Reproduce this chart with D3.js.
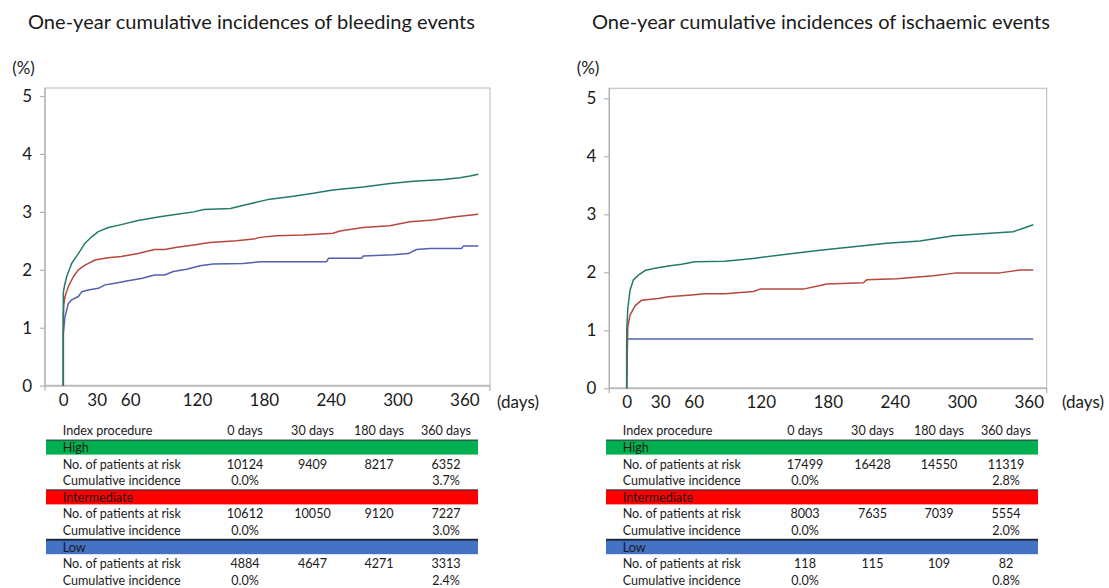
<!DOCTYPE html>
<html><head><meta charset="utf-8">
<script src="https://cdn.jsdelivr.net/npm/d3@7"></script>
<style>
html,body{margin:0;padding:0;background:#fff;}
svg{display:block;font-family:Lato,"Open Sans",sans-serif;}
</style></head>
<body>
<svg id="c" width="1109" height="588"></svg>
<script>
// ---------- DATA ----------
const titles = ["One-year cumulative incidences of bleeding events", "One-year cumulative incidences of ischaemic events"];
const groups = ["High", "Intermediate", "Low"];
const groupColors = ["#00b050", "#ff0000", "#4472c4"];
const lineColors = ["#237a69", "#b8473c", "#5261b0"];
const xTicks = [0, 30, 60, 120, 180, 240, 300, 360];
const yTicks = [0, 1, 2, 3, 4, 5];
const tableHeaders = ["Index procedure", "0 days", "30 days", "180 days", "360 days"];
const rowLabels = ["No. of patients at risk", "Cumulative incidence"];

// [day, %] points
const bleedHigh = [[0,0],[0,1.6],[1,1.72],[3,1.88],[7.5,2.11],[13.5,2.28],[19.5,2.46],[25.5,2.57],[31.4,2.66],[40.4,2.73],[52,2.78],[67,2.85],[88,2.92],[102,2.96],[117,3.0],[126,3.04],[150,3.06],[167.6,3.14],[185.5,3.22],[206.5,3.27],[224.4,3.32],[239,3.37],[248.4,3.39],[269.3,3.43],[293.3,3.49],[314.3,3.53],[341,3.56],[356,3.59],[365,3.62],[372.5,3.65]];
const bleedInter = [[0,0],[0,1.2],[0.5,1.4],[1.5,1.54],[4.5,1.71],[9,1.88],[13.5,2.0],[19.5,2.08],[28.5,2.17],[40,2.21],[52,2.23],[67,2.28],[82,2.35],[91,2.35],[102,2.39],[117,2.43],[131.7,2.47],[155.6,2.5],[170.5,2.53],[176.6,2.56],[191.5,2.59],[215.4,2.6],[242,2.63],[248.4,2.67],[269,2.73],[293,2.76],[311,2.83],[332,2.86],[350,2.91],[372.5,2.96]];
const bleedLow = [[0,0],[0,0.9],[1.5,1.19],[4.5,1.42],[7.5,1.48],[13.5,1.54],[16.5,1.62],[22.4,1.65],[31.4,1.68],[37.4,1.74],[46.4,1.77],[58,1.81],[70,1.85],[82,1.91],[91,1.91],[98.7,1.97],[110.8,2.01],[122.7,2.07],[134.6,2.1],[161.6,2.11],[176.6,2.14],[236.4,2.14],[238,2.2],[267.8,2.2],[269.3,2.24],[296,2.26],[309.7,2.28],[317,2.35],[329,2.37],[357.6,2.37],[359,2.41],[372.5,2.41]];

const ischHigh = [[0,0],[0,1.0],[1,1.38],[3,1.69],[6,1.87],[10.4,1.95],[16.4,2.03],[25.3,2.07],[37.3,2.11],[49.2,2.14],[61,2.18],[88,2.19],[113.4,2.24],[143,2.31],[173,2.38],[203,2.44],[232.8,2.5],[262.6,2.54],[292.4,2.63],[322.3,2.67],[346,2.7],[355,2.76],[364,2.82]];
const ischInter = [[0,0],[0.5,0.57],[1,1.06],[3,1.26],[7.4,1.42],[13.4,1.52],[28.3,1.55],[37.3,1.58],[58,1.61],[70,1.63],[88,1.63],[113.4,1.67],[119.4,1.71],[158,1.71],[170,1.76],[179,1.8],[211.8,1.82],[214.9,1.87],[241.7,1.89],[274.5,1.94],[295.4,1.99],[334.2,1.99],[352,2.04],[364,2.04]];
const ischLow = [[0,0],[0,0.85],[364,0.85]];

// Number at risk at 0, 30, 180, 360 days
const bleedAtRisk = [[10124, 9409, 8217, 6352], [10612, 10050, 9120, 7227], [4884, 4647, 4271, 3313]];
const bleedCI0 = ["0.0%", "0.0%", "0.0%"];
const bleedCI360 = ["3.7%", "3.0%", "2.4%"];
const ischAtRisk = [[17499, 16428, 14550, 11319], [8003, 7635, 7039, 5554], [118, 115, 109, 82]];
const ischCI0 = ["0.0%", "0.0%", "0.0%"];
const ischCI360 = ["2.8%", "2.0%", "0.8%"];

// ---------- DRAW ----------
const svg = d3.select("#c");
const panels = [
  {title: titles[0], series: [bleedHigh, bleedInter, bleedLow], atRisk: bleedAtRisk, ci0: bleedCI0, ci360: bleedCI360,
   frame: {l: 45, r: 490, t: 88, b: 385.7}, x0: 63.3, x360: 464.4, y0: 385.7, y5: 96,
   titleX: 28, titleW: 447, pctX: 23.5, daysX: 518, tblX: 0},
  {title: titles[1], series: [ischHigh, ischInter, ischLow], atRisk: ischAtRisk, ci0: ischCI0, ci360: ischCI360,
   frame: {l: 609.3, r: 1046.7, t: 88.3, b: 388.3}, x0: 626.7, x360: 1028.8, y0: 388.3, y5: 98.3,
   titleX: 592, titleW: 458, pctX: 588, daysX: 1083, tblX: 560}
];

const textColor = "#1a1a1a";
const TBL_FS = 14, TBL_SX = 0.9;

function tText(parent, x, y, str, anchor) {
  return parent.append("text")
    .attr("transform", `translate(${x},${y}) scale(${TBL_SX},1)`)
    .attr("dy", "0.35em").attr("text-anchor", anchor || "start")
    .attr("font-size", TBL_FS).attr("fill", textColor).text(str);
}

panels.forEach(p => {
  const g = svg.append("g");
  const x = d3.scaleLinear().domain([0, 360]).range([p.x0, p.x360]);
  const y = d3.scaleLinear().domain([0, 5]).range([p.y0, p.y5]);
  const f = p.frame;

  g.append("text").attr("x", p.titleX).attr("y", 22).attr("dy", "0.35em")
    .attr("font-size", 19.5).attr("fill", textColor)
    .attr("textLength", p.titleW).attr("lengthAdjust", "spacingAndGlyphs").text(p.title);

  g.append("text").attr("x", p.pctX).attr("y", 68).attr("dy", "0.35em").attr("text-anchor", "middle")
    .attr("font-size", 17).attr("fill", textColor).text("(%)");

  // frame
  g.append("rect").attr("x", f.l).attr("y", f.t).attr("width", f.r - f.l).attr("height", f.b - f.t)
    .attr("fill", "none").attr("stroke", "#c4c4c4").attr("stroke-width", 1.2);
  g.append("line").attr("x1", f.l).attr("x2", f.r).attr("y1", f.b).attr("y2", f.b)
    .attr("stroke", "#bdbdbd").attr("stroke-width", 2);
  g.append("line").attr("x1", f.l).attr("x2", f.l).attr("y1", f.t).attr("y2", f.b)
    .attr("stroke", "#b3b3b3").attr("stroke-width", 1.3);
  [f.l, f.r].forEach(xx => g.append("line").attr("x1", xx).attr("x2", xx).attr("y1", f.b).attr("y2", f.b + 5)
    .attr("stroke", "#b3b3b3").attr("stroke-width", 1.2));

  // y axis
  const ya = g.append("g").attr("transform", `translate(${f.l},0)`)
    .call(d3.axisLeft(y).tickValues(yTicks).tickSize(5).tickPadding(8).tickFormat(d3.format("d")));
  ya.select(".domain").remove();
  ya.selectAll(".tick line").attr("stroke", "#b3b3b3").attr("stroke-width", 1.2);
  ya.selectAll(".tick text").attr("font-size", 17).attr("fill", textColor).attr("font-family", "Lato");

  // x axis labels
  const xa = g.append("g").attr("transform", `translate(0,${f.b})`)
    .call(d3.axisBottom(x).tickValues(xTicks).tickSize(0).tickPadding(8).tickFormat(d3.format("d")));
  xa.select(".domain").remove();
  xa.selectAll(".tick text").attr("font-size", 17).attr("fill", textColor).attr("font-family", "Lato");

  g.append("text").attr("x", p.daysX).attr("y", 402).attr("dy", "0.35em").attr("text-anchor", "middle")
    .attr("font-size", 17).attr("fill", textColor).text("(days)");

  // curves
  const line = d3.line().x(d => x(d[0])).y(d => y(d[1])).curve(d3.curveLinear);
  [2, 1, 0].forEach(i => {
    g.append("path").datum(p.series[i]).attr("d", line).attr("fill", "none")
      .attr("stroke", lineColors[i]).attr("stroke-width", 1.5).attr("stroke-linejoin", "round");
  });

  // table
  const t = g.append("g").attr("transform", `translate(${p.tblX},0)`);
  const colX = [62.7, 245, 312.5, 379, 446];
  const rowY = i => 430.5 + i * 16.6;
  tableHeaders.forEach((h, j) => tText(t, colX[j], rowY(0), h, j === 0 ? "start" : "middle"));
  groups.forEach((grp, k) => {
    const r = 1 + k * 3;
    const cy = rowY(r);
    t.append("rect").attr("x", 46).attr("y", cy - 7).attr("width", 432).attr("height", 14.5).attr("fill", groupColors[k]);
    t.append("line").attr("x1", 46).attr("x2", 478).attr("y1", cy - 7).attr("y2", cy - 7)
      .attr("stroke", "#1f2a3a").attr("stroke-width", k === 2 ? 2 : 1);
    tText(t, colX[0], cy, grp);
    tText(t, colX[0], rowY(r + 1), rowLabels[0]);
    p.atRisk[k].forEach((v, j) => tText(t, colX[j + 1], rowY(r + 1), v, "middle"));
    tText(t, colX[0], rowY(r + 2), rowLabels[1]);
    tText(t, colX[1], rowY(r + 2), p.ci0[k], "middle");
    tText(t, colX[4], rowY(r + 2), p.ci360[k], "middle");
  });
});
</script>
</body></html>
